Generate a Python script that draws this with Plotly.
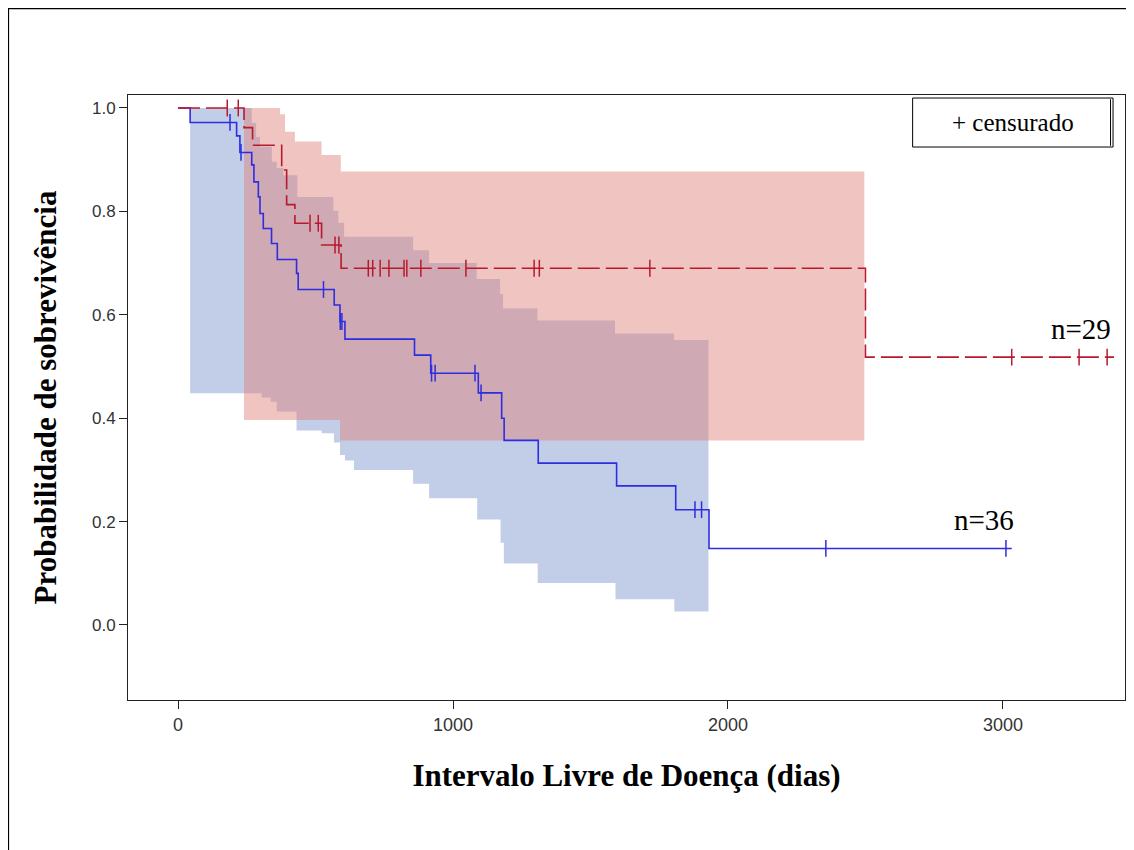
import plotly.graph_objects as go

# ---------------- data ----------------
# Blue group (n=36): Kaplan-Meier steps
blue_t = [0, 44, 213, 225, 268, 276, 292, 298, 310, 340, 361, 431, 437, 568, 589, 607,
          860, 919, 1092, 1177, 1186, 1310, 1595, 1810, 1931]
blue_s = [1.0, 0.972, 0.946, 0.914, 0.890, 0.857, 0.828, 0.796, 0.767, 0.738, 0.707, 0.680,
          0.649, 0.619, 0.587, 0.553, 0.522, 0.487, 0.449, 0.400, 0.357, 0.313, 0.269,
          0.223, 0.148]
blue_end = 3032
blue_cens_t = [189, 229, 529, 590, 596, 922, 935, 1080, 1102, 1880, 1904, 2356, 3011]
blue_cens_s = [0.972, 0.914, 0.649, 0.587, 0.587, 0.487, 0.487, 0.487, 0.449, 0.223,
               0.223, 0.148, 0.148]
# Blue confidence band
blue_up_t = [44, 268, 284, 298, 341, 359, 383, 434, 565, 583, 604, 855, 913, 1086, 1171,
             1182, 1307, 1589, 1804]
blue_up_v = [1.0, 0.971, 0.944, 0.925, 0.896, 0.884, 0.870, 0.828, 0.801, 0.778, 0.751,
             0.725, 0.700, 0.669, 0.640, 0.612, 0.589, 0.564, 0.551]
blue_lo_t = [44, 304, 337, 359, 431, 522, 567, 589, 607, 640, 855, 913, 1088, 1173, 1185,
             1308, 1591, 1805]
blue_lo_v = [0.448, 0.440, 0.432, 0.413, 0.376, 0.371, 0.353, 0.329, 0.318, 0.300, 0.273,
             0.245, 0.204, 0.159, 0.119, 0.081, 0.050, 0.026]
blue_band_end = 1929

# Red group (n=29): Kaplan-Meier steps
red_t = [0, 240, 271, 377, 395, 425, 522, 593, 2500]
red_s = [1.0, 0.962, 0.928, 0.880, 0.813, 0.777, 0.735, 0.690, 0.518]
red_end = 3404
red_cens_t = [179, 219, 480, 510, 571, 585, 692, 708, 735, 767, 822, 832, 883, 1047,
              1295, 1314, 1716, 3032, 3277, 3379]
red_cens_s = [1.0, 1.0, 0.777, 0.777, 0.735, 0.735, 0.690, 0.690, 0.690, 0.690, 0.690,
              0.690, 0.690, 0.690, 0.690, 0.690, 0.690, 0.518, 0.518, 0.518]
# Red confidence band
red_up_t = [240, 371, 389, 425, 522, 592]
red_up_v = [1.0, 0.988, 0.954, 0.935, 0.909, 0.877]
red_lo_t = [240, 589]
red_lo_v = [0.3965, 0.357]
red_band_end = 2496

x_ticks = [0, 1000, 2000, 3000]
y_ticks = [0.0, 0.2, 0.4, 0.6, 0.8, 1.0]
labels = {"blue": "n=36", "red": "n=29"}

BLUE = "rgb(45,45,225)"
RED = "rgb(185,25,45)"


def step_xy(t, v, t_end):
    xs, ys = [], []
    for i in range(len(t)):
        nxt = t[i + 1] if i + 1 < len(t) else t_end
        xs += [t[i], nxt]
        ys += [v[i], v[i]]
    return xs, ys


def band_polygon(ut, uv, lt, lv, t_end):
    ux, uy = step_xy(ut, uv, t_end)
    lx, ly = step_xy(lt, lv, t_end)
    return ux + lx[::-1] + [ux[0]], uy + ly[::-1] + [uy[0]]


fig = go.Figure()

bx, by = band_polygon(blue_up_t, blue_up_v, blue_lo_t, blue_lo_v, blue_band_end)
fig.add_trace(go.Scatter(x=bx, y=by, fill="toself", mode="lines", line=dict(width=0),
                         fillcolor="rgba(102,133,196,0.40)", hoverinfo="skip",
                         showlegend=False))
rx, ry = band_polygon(red_up_t, red_up_v, red_lo_t, red_lo_v, red_band_end)
fig.add_trace(go.Scatter(x=rx, y=ry, fill="toself", mode="lines", line=dict(width=0),
                         fillcolor="rgba(222,126,118,0.46)", hoverinfo="skip",
                         showlegend=False))

fig.add_trace(go.Scatter(x=blue_t + [blue_end], y=blue_s + [blue_s[-1]], mode="lines",
                         line=dict(color=BLUE, width=1.6, shape="hv"), showlegend=False))
fig.add_trace(go.Scatter(x=red_t + [red_end], y=red_s + [red_s[-1]], mode="lines",
                         line=dict(color=RED, width=1.6, shape="hv", dash="22px,6px"),
                         showlegend=False))

fig.add_trace(go.Scatter(x=blue_cens_t, y=blue_cens_s, mode="markers",
                         marker=dict(symbol="line-ns", size=12,
                                     line=dict(color=BLUE, width=1.5)),
                         showlegend=False))
fig.add_trace(go.Scatter(x=red_cens_t, y=red_cens_s, mode="markers",
                         marker=dict(symbol="line-ns", size=12,
                                     line=dict(color=RED, width=1.5)),
                         showlegend=False))

serif = "Liberation Serif, Times New Roman, serif"

fig.add_annotation(x=red_end - 5, y=red_s[-1], text=labels["red"], showarrow=False,
                   xanchor="right", yanchor="bottom", yshift=10,
                   font=dict(family=serif, size=29, color="black"))
fig.add_annotation(x=blue_end + 15, y=blue_s[-1], text=labels["blue"], showarrow=False,
                   xanchor="right", yanchor="bottom", yshift=10,
                   font=dict(family=serif, size=29, color="black"))

# legend box
fig.add_shape(type="rect", xref="paper", yref="paper", x0=0.787, x1=0.988, y0=0.914,
              y1=0.995, line=dict(color="black", width=1), fillcolor="white")
fig.add_shape(type="line", xref="paper", yref="paper", x0=0.9855, x1=0.9855, y0=0.916,
              y1=0.993, line=dict(color="black", width=1))
fig.add_annotation(xref="paper", yref="paper", x=0.8875, y=0.9545, text="+ censurado",
                   xanchor="center", yanchor="middle", showarrow=False,
                   font=dict(family=serif, size=25, color="black"))

# outer border
fig.add_shape(type="rect", xref="paper", yref="paper", x0=-0.1200, x1=1.0055,
              y0=-0.26, y1=1.1430, line=dict(color="black", width=1.5),
              fillcolor="rgba(0,0,0,0)", layer="below")

axis_common = dict(showline=True, linecolor="#222", linewidth=1, mirror=True,
                   ticks="outside", ticklen=8, tickcolor="#222", showgrid=False,
                   zeroline=False)

fig.update_layout(
    width=1126, height=842,
    margin=dict(l=120, r=9, t=87, b=150),
    paper_bgcolor="white", plot_bgcolor="white",
    xaxis=dict(range=[-182, 3444], tickvals=x_ticks,
               tickfont=dict(family="Liberation Sans Narrow, Liberation Sans, Arial, sans-serif",
                             size=18, color="#333"),
               title=dict(text="<b>Intervalo Livre de Doença (dias)</b>", standoff=30,
                          font=dict(family=serif, size=31, color="black")),
               **axis_common),
    yaxis=dict(range=[-0.1451, 1.0251], tickvals=y_ticks, tickformat=".1f",
               tickfont=dict(family="Liberation Sans, Arial, sans-serif", size=17,
                             color="#333"),
               title=dict(text="<b>Probabilidade de sobrevivência</b>", standoff=26,
                          font=dict(family=serif, size=31, color="black")),
               **axis_common),
)

fig.write_html("out.html")
